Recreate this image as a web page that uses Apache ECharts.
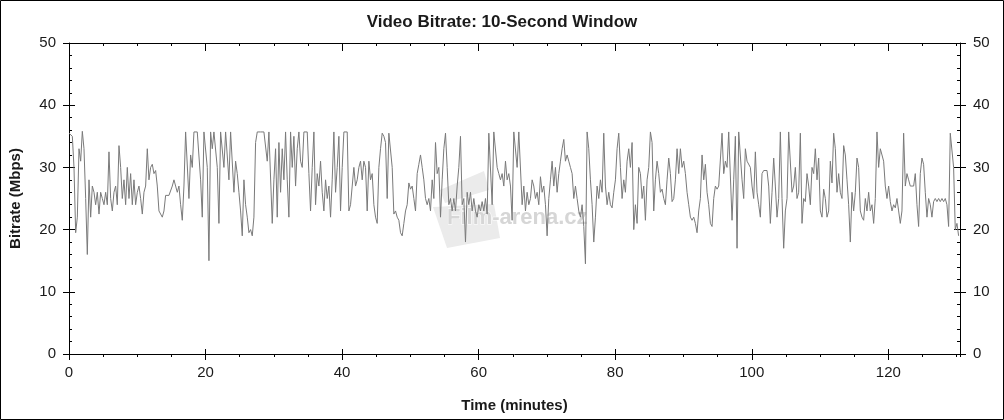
<!DOCTYPE html>
<html><head><meta charset="utf-8">
<script src="https://cdn.jsdelivr.net/npm/echarts@6/dist/echarts.min.js"></script>
<style>html,body{margin:0;padding:0;background:#fff}#c{width:1004px;height:420px}</style>
</head><body><div id="c"></div>
<script>
// Sampling step of the read-off values, in minutes
const SAMPLE_MIN = 0.244;
// Bitrate (Mbps), minutes 0 - 43
const bitrateA = [35.5,35.5,35,30,19.5,22,33,31,35.8,33,25,16,28,22,27,26,24,26,22.5,26,25,24,26,24,32.5,25,23,26,27,24,33.5,30,25,28,24,30,25,29,24,28,24,26,27,25,22.5,26,27,33,28,30,30.5,29,29.5,27,23,22.5,22,23,25.5,25.5,25.5,25.5,27,28,27,26,27,24,21.5,27,35.7,35.7,25,32,30,35.7,35.7,35.7,35.7,28,22,35.7,35.7,30,15,35.7,33,35.7,35.7,30,21,35.7,35.7,30,35.7,35.7,28,35.7,35.7,26,31,29,26,23,19,28,24,22,19.5,20,19,22,34,35.7,35.7,35.7,35.7,35.7,35.7,31,35.7,35.7,21,28,33,22,34,26,33,28,35.7,28,22,35.7,30,35,27,33,35.7,31,30,35.7,35.7,35.7,29,23,30,35.7,24,29,27,31,26,23,28,25,27,22,28,35.7,26,30,35,23,30,35.7,35.7,35.7,23,24,27,30,27,28,30,31,28,31];
// Bitrate (Mbps), minutes 43 - 87
const bitrateB = [30,23,31,28,29,24,22,21,30,33,35.5,35,34,25,35.5,35.7,30,22.5,23,22,21.5,19.5,19,21,23,24,27.5,26.5,27,25,23,29,30.5,32,30,28,25,24,25,23,28,25,34,29,30,22,28,33,35.5,30,24,25,23,25,23,27,30,35,24,25,18,26,24,26,23,25,23,22,24,23,24.5,23,25,22.5,35.5,35.7,24,35.7,35.5,30,29,28,29,27,31,28,29,27,21.5,35.7,35.7,30,35.7,35.5,24,27,23,26,24,25,28,27,25,26,24,28.5,26,27,24,19,25,28,31,27,30,26,29,31,33,34.5,31,32,31,30,29,25,27,25,23,22,24,20.5,14.5,35.7,33,28,24,18,22,27,25,28,26,35.5,27,24,26,24,23.5,26,28,33,35.5,30,25,28,26,31,33,30,34,20,24,21,30,29,25,27,21.5,28,30,35.7,34,23,28,31,29,26,26.5];
// Bitrate (Mbps), minutes 87 - 130.5
const bitrateC = [25,24,28,31.5,29,24.5,25,28,33,29,33,30,31,29,26,24,22,21.5,22,21,19.5,23,25,32,28,30.5,26,24,21,20.5,25,27,26.5,27,27,35.5,29,31,30,35.7,35.7,21.5,28,35,17,35.7,35.7,28,25,33,31,31,30,27,25,32.5,26,24,22,29,29.5,29.5,29.5,27,21,26,31.5,27,22,25,35.7,25,17,23,25,35.7,35.5,26,27,30,25,26,35.5,21,25,24.5,29,27,24,30,29,33,28,31.5,23,22,26.5,25,22,23,31,27.5,35.5,33,26,29,26,25,33.5,32,28,24,18,26,23,26,31.5,30,23,22,21.5,25,23,26,23,24,21,25,35.7,30,33,32,31,27,25,27,24.5,23,24,23.5,25,23,21,23,35.5,27,29,28,27,27,27,29,24,20.5,29,31.5,30.5,26,22,25,24,22,24.5,25,24.5,25,24.5,25,24.5,25,24,20.5,35.5,35.7,30,20,21,19];
const xMajorStep = 20, xMinorStep = 5, yMajorStep = 10, yMinorStep = 2;
const X_MAX = 130.5, Y_MAX = 50;

const FONT = '"Liberation Sans", Arial, Helvetica, sans-serif';
const bitrate = bitrateA.concat(bitrateB, bitrateC);
const seriesData = bitrate.map((v, i) => [i * SAMPLE_MIN, v]);

function xAx(opt) {
  return Object.assign({
    type: 'value', min: 0, max: X_MAX, interval: xMajorStep,
    axisLine: { show: false, onZero: false, lineStyle: { color: '#000', width: 1 } },
    axisTick: { show: true, inside: false, length: 6, lineStyle: { color: '#000', width: 1 } },
    axisLabel: { show: false },
    splitLine: { show: false }
  }, opt);
}
function yAx(opt) {
  return Object.assign({
    type: 'value', min: 0, max: Y_MAX, interval: yMajorStep,
    axisLine: { show: false, onZero: false, lineStyle: { color: '#000', width: 1 } },
    axisTick: { show: true, inside: false, length: 6, lineStyle: { color: '#000', width: 1 } },
    axisLabel: { show: false },
    splitLine: { show: false }
  }, opt);
}
const labelStyle = { fontSize: 15, color: '#1a1a1a', fontFamily: FONT };
const nameStyle = { fontSize: 15, fontWeight: 'bold', color: '#1a1a1a', fontFamily: FONT };

const chart = echarts.init(document.getElementById('c'), null, { renderer: 'canvas' });
chart.setOption({
  animation: false,
  backgroundColor: '#fff',
  title: {
    text: 'Video Bitrate: 10-Second Window', left: 'center', top: 9,
    textStyle: { fontSize: 17, fontWeight: 'bold', color: '#1a1a1a', fontFamily: FONT }
  },
  grid: { left: 69, right: 44, top: 43, bottom: 66, containLabel: false },
  xAxis: [
    xAx({ position: 'bottom', axisLine: { show: true, onZero: false, lineStyle: { color: '#000', width: 1 } },
      axisLabel: Object.assign({ show: true, margin: 11, showMaxLabel: false }, labelStyle),
      name: 'Time (minutes)', nameLocation: 'middle', nameGap: 44, nameTextStyle: nameStyle }),
    xAx({ position: 'bottom', axisTick: { show: true, inside: true, length: 5, lineStyle: { color: '#000' } } }),
    xAx({ position: 'bottom', interval: xMinorStep, axisTick: { show: true, inside: false, length: 3, lineStyle: { color: '#000' } } }),
    xAx({ position: 'top', axisLine: { show: true, onZero: false, lineStyle: { color: '#000', width: 1 } },
      axisTick: { show: true, inside: true, length: 8, lineStyle: { color: '#000' } } }),
    xAx({ position: 'top', interval: xMinorStep, axisTick: { show: true, inside: true, length: 3, lineStyle: { color: '#000' } } })
  ],
  yAxis: [
    yAx({ position: 'left', axisLine: { show: true, onZero: false, lineStyle: { color: '#000', width: 1 } },
      axisLabel: Object.assign({ show: true, margin: 13 }, labelStyle),
      name: 'Bitrate (Mbps)', nameLocation: 'middle', nameGap: 46, nameTextStyle: nameStyle }),
    yAx({ position: 'left', axisTick: { show: true, inside: true, length: 6, lineStyle: { color: '#000' } } }),
    yAx({ position: 'left', interval: yMinorStep, axisTick: { show: true, inside: true, length: 3, lineStyle: { color: '#000' } } }),
    yAx({ position: 'right', axisLine: { show: true, onZero: false, lineStyle: { color: '#000', width: 1 } },
      axisLabel: Object.assign({ show: true, margin: 13 }, labelStyle) }),
    yAx({ position: 'right', axisTick: { show: true, inside: true, length: 6, lineStyle: { color: '#000' } } }),
    yAx({ position: 'right', interval: yMinorStep, axisTick: { show: true, inside: true, length: 3, lineStyle: { color: '#000' } } })
  ],
  graphic: [
    { type: 'rect', shape: { x: 0.5, y: 0.5, width: 1003, height: 419 }, style: { fill: 'none', stroke: '#000', lineWidth: 1 }, z: 100, silent: true },
    { type: 'polygon', shape: { points: [[433, 207], [447, 248], [500, 238], [494, 204]] }, style: { fill: '#ebebeb' }, z: -10, silent: true },
    { type: 'polygon', shape: { points: [[440, 190], [445, 203], [489, 190], [484, 171]] }, style: { fill: '#ebebeb' }, z: -10, silent: true },
    { type: 'text', x: 447, y: 207, style: { text: 'Film-arena.cz', fill: '#d6d6d6', stroke: '#fff', lineWidth: 1, font: 'bold 22px ' + FONT }, z: -5, silent: true }
  ],
  series: [{
    type: 'line', xAxisIndex: 0, yAxisIndex: 0, data: seriesData,
    showSymbol: false, symbol: 'none', silent: true,
    lineStyle: { color: '#7a7a7a', width: 1 }
  }]
});
</script></body></html>
